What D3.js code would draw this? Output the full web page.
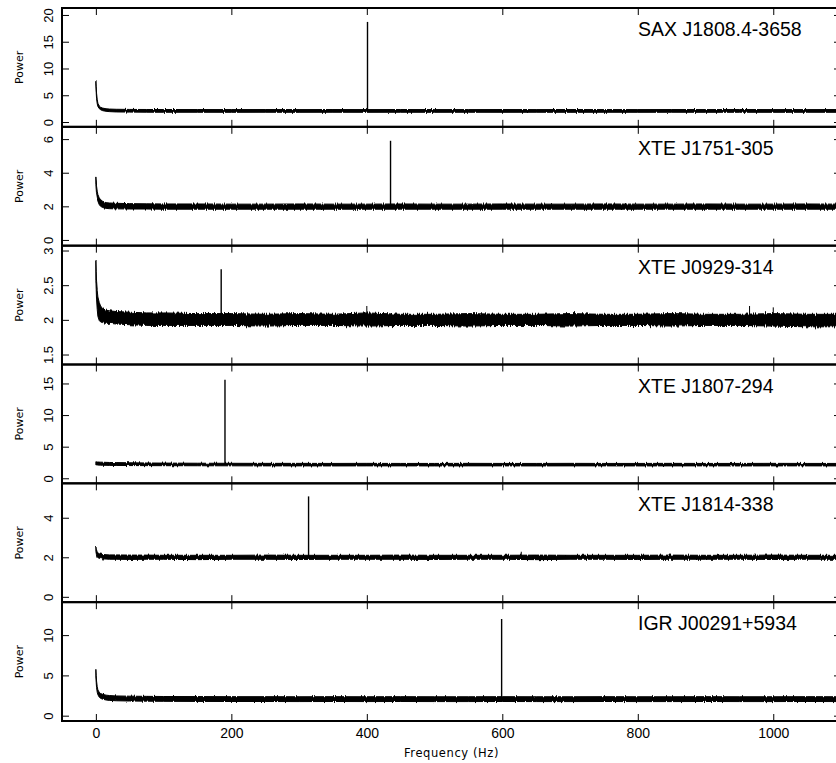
<!DOCTYPE html>
<html><head><meta charset="utf-8">
<script src="https://cdn.jsdelivr.net/npm/d3@7"></script>
<style>body{margin:0;background:#fff}svg{display:block}</style>
</head><body>
<script>
const sources = ["SAX J1808.4-3658","XTE J1751-305","XTE J0929-314","XTE J1807-294","XTE J1814-338","IGR J00291+5934"];
const xTicks = [0,200,400,600,800,1000];
const yTicks = [[0,5,10,15,20],[0,2,4,6],[1.5,2,2.5,3],[0,5,10,15],[0,2,4],[0,5,10]];
const yLimits = [[-0.9,21.3],[-0.34,6.73],[1.356,3.07],[-0.8,18.0],[-0.27,5.74],[-0.66,14.09]];
const freqLimits = [-50,1100];

// sampled frequencies (Hz) of the continuum envelope
const freqs = [0,0.5,1,2,3,5,7,10,15,20,30,50,75,100,150,200,250,300,350,400,450,500,550,600,650,700,750,800,850,900,950,1000,1050,1100];

// upper / lower envelope of the noise band for each source
const hiSAX = [7.8,6.6,5.4,4.2,3.5,3.0,2.75,2.6,2.48,2.42,2.38,2.35,2.34,2.33,2.33,2.32,2.33,2.32,2.33,2.32,2.33,2.32,2.32,2.33,2.32,2.33,2.32,2.32,2.33,2.32,2.33,2.32,2.32,2.33];
const loSAX = [6.9,5.5,4.4,3.4,2.9,2.5,2.3,2.12,2.0,1.94,1.88,1.85,1.83,1.82,1.82,1.81,1.82,1.81,1.82,1.81,1.82,1.81,1.82,1.81,1.82,1.81,1.82,1.81,1.82,1.81,1.82,1.81,1.82,1.81];
const hi1751 = [3.75,3.5,3.2,2.9,2.7,2.5,2.4,2.3,2.22,2.2,2.18,2.16,2.15,2.14,2.14,2.13,2.13,2.14,2.13,2.13,2.14,2.13,2.13,2.14,2.13,2.13,2.14,2.13,2.13,2.14,2.13,2.13,2.14,2.13];
const lo1751 = [3.3,3.0,2.75,2.5,2.3,2.1,2.0,1.93,1.88,1.86,1.85,1.84,1.84,1.83,1.83,1.83,1.83,1.83,1.83,1.83,1.83,1.83,1.83,1.83,1.83,1.83,1.83,1.83,1.83,1.83,1.83,1.83,1.83,1.83];
const hi0929 = [2.87,2.7,2.55,2.42,2.33,2.25,2.2,2.16,2.14,2.13,2.12,2.11,2.1,2.1,2.09,2.09,2.08,2.09,2.08,2.1,2.08,2.08,2.09,2.08,2.08,2.09,2.08,2.08,2.09,2.08,2.08,2.09,2.08,2.08];
const lo0929 = [2.6,2.45,2.3,2.15,2.05,1.99,1.97,1.96,1.95,1.95,1.94,1.93,1.92,1.92,1.92,1.92,1.91,1.92,1.92,1.91,1.92,1.92,1.91,1.92,1.92,1.91,1.92,1.92,1.91,1.92,1.92,1.91,1.9,1.9];
const hi1807 = [2.62,2.6,2.6,2.58,2.57,2.56,2.55,2.54,2.52,2.5,2.48,2.45,2.42,2.4,2.38,2.37,2.36,2.36,2.35,2.36,2.35,2.35,2.36,2.35,2.35,2.36,2.35,2.35,2.36,2.35,2.35,2.36,2.35,2.35];
const lo1807 = [2.12,2.12,2.12,2.1,2.1,2.08,2.07,2.06,2.05,2.04,2.03,2.01,2.0,1.99,1.98,1.97,1.96,1.96,1.95,1.96,1.96,1.95,1.96,1.96,1.95,1.96,1.96,1.95,1.96,1.96,1.95,1.96,1.96,1.95];
const hi1814 = [2.57,2.47,2.37,2.27,2.22,2.18,2.16,2.14,2.13,2.12,2.12,2.11,2.11,2.1,2.1,2.1,2.11,2.1,2.1,2.1,2.11,2.1,2.1,2.1,2.11,2.1,2.1,2.1,2.11,2.1,2.1,2.11,2.1,2.1];
const lo1814 = [2.3,2.2,2.1,2.02,1.98,1.95,1.93,1.92,1.91,1.9,1.9,1.89,1.9,1.9,1.88,1.9,1.9,1.89,1.9,1.9,1.9,1.89,1.9,1.9,1.88,1.9,1.9,1.89,1.9,1.9,1.9,1.89,1.9,1.9];
const hiIGR = [5.75,5.0,4.3,3.6,3.2,2.9,2.75,2.65,2.55,2.5,2.45,2.42,2.4,2.38,2.37,2.36,2.36,2.35,2.36,2.35,2.36,2.35,2.35,2.36,2.35,2.35,2.36,2.35,2.35,2.36,2.35,2.35,2.36,2.35];
const loIGR = [4.8,4.1,3.5,2.9,2.6,2.3,2.15,2.05,1.95,1.9,1.85,1.82,1.8,1.78,1.77,1.76,1.76,1.75,1.76,1.75,1.76,1.75,1.75,1.76,1.75,1.75,1.76,1.75,1.75,1.76,1.75,1.75,1.76,1.75];

const bandHi = [hiSAX,hi1751,hi0929,hi1807,hi1814,hiIGR];
const bandLo = [loSAX,lo1751,lo0929,lo1807,lo1814,loIGR];

// pulsation spikes (spin frequency, Hz) and their peak power
const spikeFreq = [401, 435, 185, 190.6, 314, 599];
const spikeTop  = [18.7, 5.9, 2.73, 15.6, 5.08, 12.0];
const spikeBase = [2.1, 2.0, 2.0, 2.2, 2.0, 2.0];

// smaller features
const minorPanel = [2, 2, 2, 4];
const minorFreq  = [400, 965, 1000, 628];
const minorTop   = [2.2, 2.2, 2.18, 2.28];
const minorBase  = [2.0, 2.0, 2.0, 2.0];

const W = 836, H = 763;
const L = 62, R = 841, T = 8, B = 721;
const ph = (B - T) / sources.length;
const jitter = [3, 4, 6, 2.5, 3, 3];

const svg = d3.select("body").append("svg").attr("width", W).attr("height", H);

const defs = svg.append("defs");
jitter.forEach((s, i) => {
  const f = defs.append("filter").attr("id","jag"+i).attr("filterUnits","userSpaceOnUse")
    .attr("x",0).attr("y",0).attr("width",W).attr("height",H)
    .attr("color-interpolation-filters","sRGB");
  f.append("feTurbulence").attr("type","fractalNoise").attr("baseFrequency","0.9 0.01")
    .attr("numOctaves",2).attr("seed",7+i).attr("result","n");
  f.append("feColorMatrix").attr("in","n").attr("type","matrix")
    .attr("values","0 0 0 0 0.5  0 1 0 0 0  0 0 0 0 0  0 0 0 0 1").attr("result","m");
  f.append("feDisplacementMap").attr("in","SourceGraphic").attr("in2","m")
    .attr("scale",s).attr("xChannelSelector","R").attr("yChannelSelector","G");
});

const x = d3.scaleLinear().domain(freqLimits).range([L, R]);

sources.forEach((name, i) => {
  const top = T + i * ph, bot = top + ph;
  const y = d3.scaleLinear().domain(yLimits[i]).range([bot, top]);
  const g = svg.append("g");

  // noise band
  const pts = freqs.map((fq, k) => ({f: fq, hi: bandHi[i][k], lo: bandLo[i][k]}));
  const area = d3.area().x(d => x(d.f)).y0(d => y(d.lo)).y1(d => y(d.hi));
  g.append("path").datum(pts).attr("d", area)
    .attr("fill","#000").attr("stroke","#000").attr("stroke-width",1)
    .attr("filter",`url(#jag${i})`);

  // spin spike
  g.append("line")
    .attr("x1", x(spikeFreq[i])).attr("x2", x(spikeFreq[i]))
    .attr("y1", y(spikeBase[i])).attr("y2", y(spikeTop[i]))
    .attr("stroke","#000").attr("stroke-width",1.4);

  minorPanel.forEach((p, k) => {
    if (p !== i) return;
    g.append("line")
      .attr("x1", x(minorFreq[k])).attr("x2", x(minorFreq[k]))
      .attr("y1", y(minorBase[k])).attr("y2", y(minorTop[k]))
      .attr("stroke","#000").attr("stroke-width",1);
  });

  // axes: ticks inward on all four sides
  const ax = g.append("g").attr("font-family","Liberation Sans, Arial, sans-serif");
  const left = ax.append("g").attr("transform",`translate(${L},0)`)
    .call(d3.axisLeft(y).tickValues(yTicks[i]).tickSize(-7).tickFormat(d3.format("")));
  left.select(".domain").remove();
  left.selectAll("text").attr("x",null).attr("dy",null).attr("font-size",13)
    .attr("fill","#000").attr("text-anchor","middle")
    .attr("transform","translate(-9,0) rotate(-90)");
  const right = ax.append("g").attr("transform",`translate(${R},0)`)
    .call(d3.axisRight(y).tickValues(yTicks[i]).tickSize(-7).tickFormat(""));
  right.select(".domain").remove();
  const topAx = ax.append("g").attr("transform",`translate(0,${top})`)
    .call(d3.axisTop(x).tickValues(xTicks).tickSize(-7).tickFormat(""));
  topAx.select(".domain").remove();
  const botAx = ax.append("g").attr("transform",`translate(0,${bot})`)
    .call(d3.axisBottom(x).tickValues(xTicks).tickSize(-7).tickPadding(7)
      .tickFormat(i === sources.length - 1 ? d3.format("") : ""));
  botAx.select(".domain").remove();
  botAx.selectAll("text").attr("font-size",14).attr("fill","#000");
  ax.selectAll(".tick line").attr("stroke","#000").attr("stroke-width",1);

  // frame
  g.append("rect").attr("x",L).attr("y",top).attr("width",R-L).attr("height",ph)
    .attr("fill","none").attr("stroke","#000").attr("stroke-width",2);

  // source name
  g.append("text").attr("x",638).attr("y",top + 28)
    .attr("font-family","Liberation Sans, Arial, sans-serif").attr("font-size",19.5)
    .attr("fill","#000").text(name);

  // y label
  g.append("text").attr("transform",`translate(23,${(top+bot)/2}) rotate(-90)`)
    .attr("text-anchor","middle").attr("font-family","DejaVu Sans, sans-serif")
    .attr("font-size",11).attr("fill","#000").text("Power");
});

svg.append("text").attr("x",(L+R)/2).attr("y",757).attr("text-anchor","middle")
  .attr("font-family","DejaVu Sans, sans-serif").attr("font-size",11.5)
  .attr("letter-spacing","0.6").attr("fill","#000").text("Frequency (Hz)");
</script>
</body></html>
